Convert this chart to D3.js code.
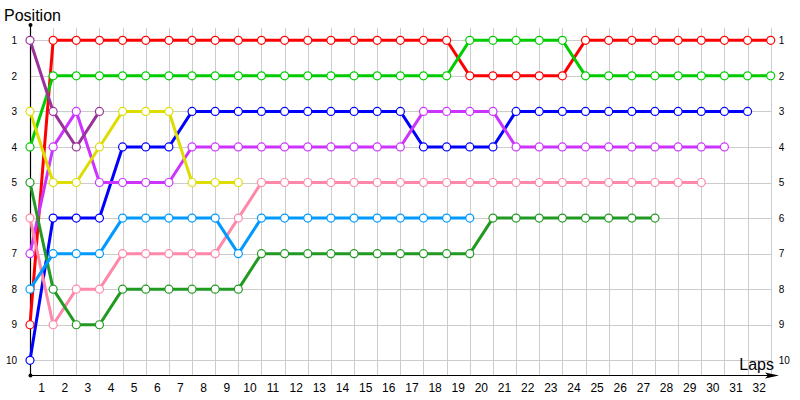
<!DOCTYPE html>
<html><head><meta charset="utf-8">
<script src="https://cdn.jsdelivr.net/npm/d3@7"></script>
<style>
body{margin:0;background:#fff;}
svg{display:block;font-family:"Liberation Sans",Arial,sans-serif;}
</style></head><body>
<svg id="c" width="800" height="400"></svg>
<script>
const laps = d3.range(1, 33); // tick labels 1..32
const positions = [1,2,3,4,5,6,7,8,9,10];
const seriesColors = ["#ff0000","#00cc00","#0000ff","#cc33ff","#ff88aa","#229922","#0099ff","#dddd00","#993399"];
const red       = [9,1,1,1,1,1,1,1,1,1,1,1,1,1,1,1,1,1,1,2,2,2,2,2,1,1,1,1,1,1,1,1,1];
const green     = [4,2,2,2,2,2,2,2,2,2,2,2,2,2,2,2,2,2,2,1,1,1,1,1,2,2,2,2,2,2,2,2,2];
const blue      = [10,6,6,6,4,4,4,3,3,3,3,3,3,3,3,3,3,4,4,4,4,3,3,3,3,3,3,3,3,3,3,3];
const purple    = [7,4,3,5,5,5,5,4,4,4,4,4,4,4,4,4,4,3,3,3,3,4,4,4,4,4,4,4,4,4,4];
const pink      = [6,9,8,8,7,7,7,7,7,6,5,5,5,5,5,5,5,5,5,5,5,5,5,5,5,5,5,5,5,5];
const darkgreen = [5,8,9,9,8,8,8,8,8,8,7,7,7,7,7,7,7,7,7,7,6,6,6,6,6,6,6,6];
const lightblue = [8,7,7,7,6,6,6,6,6,7,6,6,6,6,6,6,6,6,6,6];
const yellow    = [3,5,5,4,3,3,3,5,5,5];
const plum      = [1,3,4,3];
const allSeries = [red, green, blue, purple, pink, darkgreen, lightblue, yellow, plum];

const svg = d3.select("#c");
const x0 = 30, x1 = 770.7, yTop = 40.3, yBot = 360.3, axisY = 375;
const x = d3.scaleLinear().domain([0, 32]).range([x0, x1]);
const xb = d3.scaleBand().domain(laps).range([x0, x1]);
const y = d3.scaleLinear().domain([1, 10]).range([yTop, yBot]);

// grid
const grid = svg.append("g").attr("stroke", "#cccccc").attr("stroke-width", 1).attr("shape-rendering", "crispEdges");
grid.selectAll(".v").data(laps).join("line")
  .attr("x1", d => Math.round(x(d)) + 0.5).attr("x2", d => Math.round(x(d)) + 0.5)
  .attr("y1", 28).attr("y2", axisY);
grid.selectAll(".h").data(positions).join("line")
  .attr("x1", x0).attr("x2", x1)
  .attr("y1", d => Math.round(y(d)) + 0.5).attr("y2", d => Math.round(y(d)) + 0.5);

// axes labels
const bottom = svg.append("g").attr("transform", `translate(0,${axisY})`)
  .call(d3.axisBottom(xb).tickSize(0).tickPadding(8));
bottom.select(".domain").remove();
bottom.selectAll("text").attr("font-size", 12).attr("font-family", "Liberation Sans, Arial").attr("fill", "#000");

const left = svg.append("g").attr("transform", `translate(${x0},0)`)
  .call(d3.axisLeft(y).tickValues(positions).tickSize(0).tickPadding(13).tickFormat(d3.format("d")));
left.select(".domain").remove();
left.selectAll("text").attr("font-size", 10).attr("font-family", "Liberation Sans, Arial").attr("fill", "#000");

const right = svg.append("g").attr("transform", `translate(${x1},0)`)
  .call(d3.axisRight(y).tickValues(positions).tickSize(0).tickPadding(8).tickFormat(d3.format("d")));
right.select(".domain").remove();
right.selectAll("text").attr("font-size", 10).attr("font-family", "Liberation Sans, Arial").attr("fill", "#000");

// axis lines
svg.append("line").attr("x1", x0 + 0.5).attr("x2", x0 + 0.5).attr("y1", 25).attr("y2", axisY).attr("stroke", "#000").attr("stroke-width", 1.2);
svg.append("line").attr("x1", x0).attr("x2", 776).attr("y1", axisY + 0.5).attr("y2", axisY + 0.5).attr("stroke", "#000").attr("stroke-width", 1.2);
svg.append("circle").attr("cx", x0 + 0.5).attr("cy", 25).attr("r", 2).attr("fill", "#000");
svg.append("circle").attr("cx", x0 + 0.5).attr("cy", axisY + 0.5).attr("r", 2).attr("fill", "#000");
svg.append("path").attr("d", `M765,${axisY - 2.5} L779,${axisY + 0.5} L765,${axisY + 3.5} L768,${axisY + 0.5} Z`).attr("fill", "#000");

// titles
svg.append("text").attr("x", 4).attr("y", 21).attr("font-size", 16).attr("fill", "#000").text("Position");
svg.append("text").attr("x", 774).attr("y", 370).attr("text-anchor", "end").attr("font-size", 16).attr("fill", "#000").text("Laps");

// series
const line = d3.line().x((d, i) => x(i)).y(d => y(d));
allSeries.forEach((s, k) => {
  const g = svg.append("g");
  g.append("path").datum(s).attr("d", line).attr("fill", "none")
    .attr("stroke", seriesColors[k]).attr("stroke-width", 3).attr("stroke-linejoin", "round");
});
allSeries.forEach((s, k) => {
  svg.append("g").selectAll("circle").data(s).join("circle")
    .attr("cx", (d, i) => x(i)).attr("cy", d => y(d)).attr("r", 4)
    .attr("fill", "#fff").attr("stroke", seriesColors[k]).attr("stroke-width", 1.2);
});
</script>
</body></html>
